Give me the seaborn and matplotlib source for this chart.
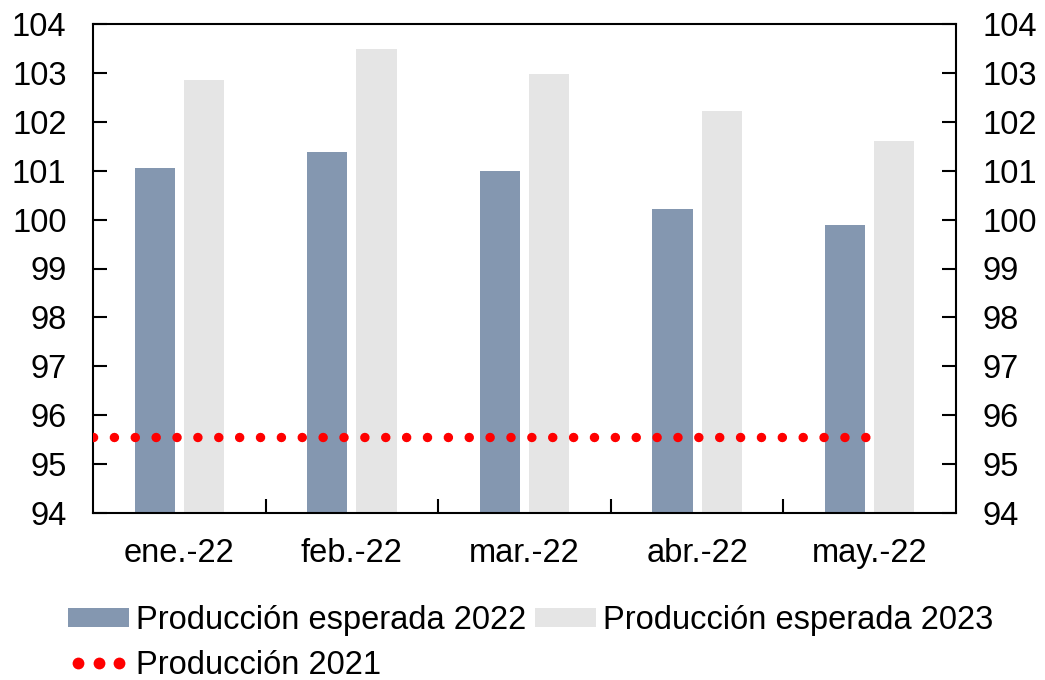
import matplotlib
matplotlib.use("Agg")
import matplotlib.pyplot as plt
import seaborn as sns
import pandas as pd
from matplotlib.patches import Patch
from matplotlib.lines import Line2D

categories = ["ene.-22", "feb.-22", "mar.-22", "abr.-22", "may.-22"]
esperada_2022 = [101.06, 101.38, 100.99, 100.22, 99.89]
esperada_2023 = [102.85, 103.49, 102.98, 102.22, 101.61]
produccion_2021 = 95.55
series_names = ["Producción esperada 2022", "Producción esperada 2023", "Producción 2021"]
y_ticks = list(range(94, 105))

sns.set_theme(style="white")
plt.rcParams["font.family"] = ["Liberation Sans", "DejaVu Sans"]
plt.rcParams["text.color"] = "black"
FS = 23.5

df = pd.DataFrame({
    "cat": categories * 2,
    "serie": [series_names[0]] * len(categories) + [series_names[1]] * len(categories),
    "valor": esperada_2022 + esperada_2023,
})

c22 = "#8497B0"
c23 = "#E5E5E5"
cred = "#FF0000"

fig = plt.figure(figsize=(10.45, 6.8), dpi=100)
ax = fig.add_axes([93/1045, 1 - 513/680, (956 - 93)/1045, (513 - 24)/680])

sns.barplot(data=df, x="cat", y="valor", hue="serie", order=categories,
            hue_order=series_names[:2], palette=[c22, c23],
            width=0.572, gap=0.185, ax=ax, legend=False, saturation=1,
            linewidth=0)

ax.plot([-0.5, len(categories) - 1], [produccion_2021, produccion_2021],
        color=cred, linewidth=6.8, linestyle=(0, (0.01, 2.2)),
        dash_capstyle="round", zorder=5)

ax.set_xlim(-0.5, len(categories) - 0.5)
ax.set_ylim(94, 104)
ax.set_yticks(y_ticks)
ax.set_xlabel("")
ax.set_ylabel("")
ax.set_xticks([i + 0.5 for i in range(len(categories) - 1)], minor=False)
ax.set_xticklabels([])
ax.set_xticks(range(len(categories)), minor=True)
ax.set_xticklabels(categories, minor=True)
ax.tick_params(axis="x", which="major", direction="in", length=10, width=1.5, color="black", bottom=True)
ax.tick_params(axis="x", which="minor", length=0, pad=18, labelsize=FS, labelcolor="black", bottom=True)
ax.tick_params(axis="y", direction="in", length=10, width=1.5, color="black", left=True,
               pad=19, labelsize=FS, labelcolor="black")

for s in ax.spines.values():
    s.set_visible(True)
    s.set_color("black")
    s.set_linewidth(1.5)

ax2 = ax.twinx()
ax2.set_ylim(94, 104)
ax2.set_yticks(y_ticks)
ax2.tick_params(axis="y", direction="in", length=10, width=1.5, color="black", right=True,
                pad=19, labelsize=FS, labelcolor="black")
ax2.grid(False)
for s in ax2.spines.values():
    s.set_visible(False)

handles = [
    Patch(facecolor=c22, edgecolor="none"),
    Line2D([0], [0], color=cred, linestyle="none", marker="o", markersize=8.5,
           markeredgewidth=0),
    Patch(facecolor=c23, edgecolor="none"),
]
labels = [series_names[0], series_names[2], series_names[1]]
fig.legend(handles, labels, ncol=2, loc="upper left", bbox_to_anchor=(68/1045, 1 - 605/680),
           frameon=False, fontsize=FS, handlelength=1.87, handleheight=0.55,
           handletextpad=0.22, columnspacing=0.25, labelspacing=0.42, borderpad=0,
           numpoints=3, borderaxespad=0, markerscale=1)

fig.savefig("out.png", dpi=100, facecolor="white")
